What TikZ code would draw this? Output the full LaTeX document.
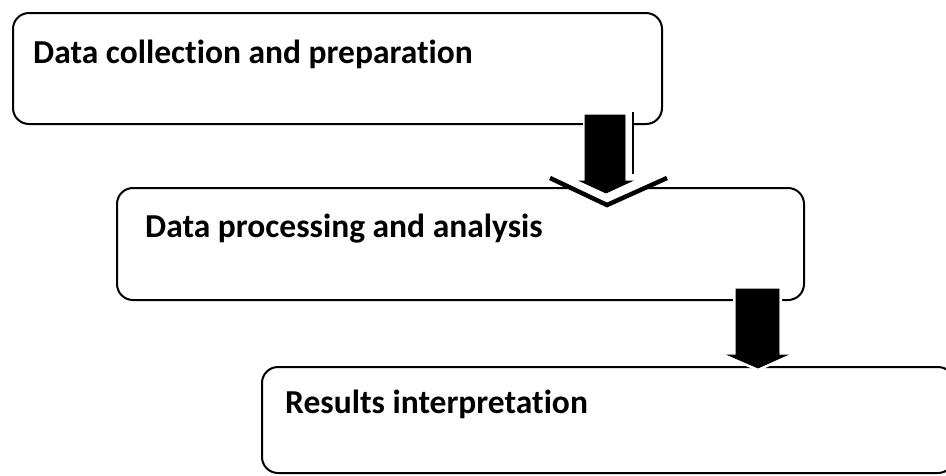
\documentclass[tikz,border=0pt]{standalone}
\usepackage{fontspec}
\setmainfont{Carlito}[Ligatures=NoCommon]
\begin{document}
\begin{tikzpicture}[x=1pt,y=-1pt,
  box/.style={draw=black, line width=2pt, rounded corners=16pt, fill=white, inner sep=0pt, anchor=north west},
  lbl/.style={anchor=base west, inner sep=0pt, font=\fontsize{33.5}{40}\selectfont\bfseries},
  blockarrow/.style={fill=black, draw=black, line width=0.8pt, line join=miter},
  halo/.style={fill=white, draw=white, line width=6pt, line join=miter},
  outl/.style={draw=black, line width=2pt},
  chev/.style={draw=black, line width=4.5pt, line join=miter}]
\useasboundingbox (0,0) rectangle (946,475);
\clip (0,0) rectangle (946,475);
% boxes
\node[box, minimum width=649pt, minimum height=111pt] (b1) at (12,12) {};
\node[box, minimum width=687pt, minimum height=112pt] (b2) at (116,187) {};
\node[box, minimum width=692pt, minimum height=106pt] (b3) at (261,366) {};
% labels
\node[lbl] (t1) at (33,63) {Data collection and preparation};
\node[lbl] (t2) at (145,237) {Data processing and analysis};
\node[lbl] (t3) at (285,413) {Results interpretation};
% arrow 1: outlined arrow behind, black arrow in front
\fill[white] (583,113) -- (633,113) -- (633,178) -- (667,178) -- (607,205) -- (550,178) -- (583,178) -- cycle;
\draw[outl] (633,112) -- (633,174);
\draw[chev] (550,178) -- (607,205) -- (667,178);
\draw[blockarrow] (585,115) -- (625,115) -- (625,181) -- (632,181) -- (606,193) -- (580,181) -- (585,181) -- cycle;
% arrow 2
\draw[halo] (736,291) -- (779,291) -- (779,355) -- (787,355) -- (758,368) -- (728,355) -- (736,355) -- cycle;
\draw[blockarrow] (736,289) -- (779,289) -- (779,355) -- (787,355) -- (758,368) -- (728,355) -- (736,355) -- cycle;
\end{tikzpicture}
\end{document}
